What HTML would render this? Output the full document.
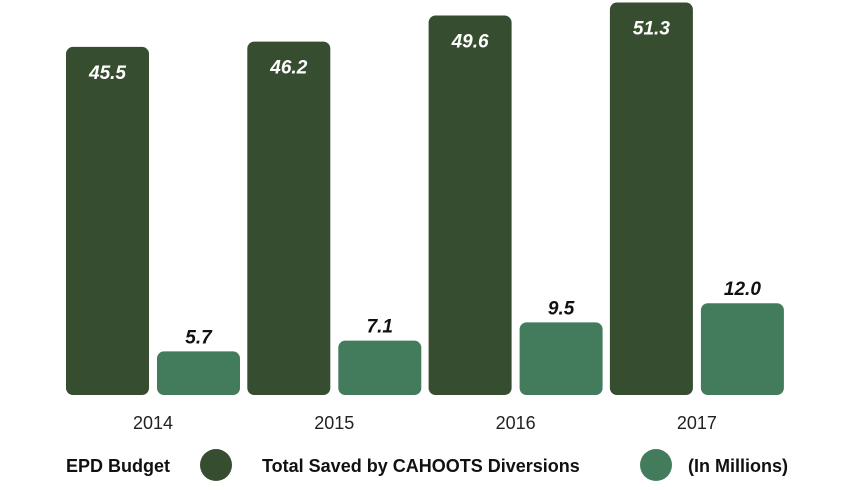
<!DOCTYPE html>
<html><head><meta charset="utf-8"><style>
body{margin:0;background:#fff;width:850px;height:485px;overflow:hidden;font-family:"Liberation Sans",sans-serif}
</style></head><body>
<svg width="850" height="485">
<g id="bars"></g>
<g font-size="18" font-weight="bold" fill="#111">
<text x="66" y="472">EPD Budget</text>
<circle cx="216" cy="465" r="16" fill="#374d2f"/>
<text x="262" y="472">Total Saved by CAHOOTS Diversions</text>
<circle cx="656" cy="465" r="16" fill="#437b5d"/>
<text x="688" y="472">(In Millions)</text>
</g>
</svg>
<script>
const categories=["2014","2015","2016","2017"];
const budget=[45.5,46.2,49.6,51.3];
const saved=[5.7,7.1,9.5,12.0];
const baseY=395, scale=7.65, x0=66, groupW=181.3, barW=83, gap=8;
const y=v=>baseY-v*scale;
const g=document.getElementById('bars');
const NS="http://www.w3.org/2000/svg";
categories.forEach((c,i)=>{
  const gx=x0+i*groupW;
  [[budget[i],'#374d2f',gx,'budget'],[saved[i],'#437b5d',gx+barW+gap,'saved']].forEach(([v,col,bx,k])=>{
    const r=document.createElementNS(NS,'rect');
    r.setAttribute('x',bx);r.setAttribute('y',y(v));r.setAttribute('width',barW);r.setAttribute('height',v*scale);
    r.setAttribute('rx',7);r.setAttribute('fill',col);
    
    
    g.appendChild(r);
    const t=document.createElementNS(NS,'text');
    t.setAttribute('x',bx+barW/2);
    t.setAttribute('y',k==='budget'?y(v)+32:y(v)-8);
    t.setAttribute('text-anchor','middle');t.setAttribute('font-size','19');t.setAttribute('font-weight','bold');t.setAttribute('font-style','italic');
    t.setAttribute('fill',k==='budget'?'#fff':'#111');
    t.textContent=v.toFixed(1);
    
    
    g.appendChild(t);
  });
  const t=document.createElementNS(NS,'text');
  t.setAttribute('x',gx+barW+gap/2);t.setAttribute('y',429);t.setAttribute('text-anchor','middle');
  t.setAttribute('font-size','18');t.setAttribute('fill','#222');t.textContent=c;
  
  
  g.appendChild(t);
});
</script>
</body></html>
